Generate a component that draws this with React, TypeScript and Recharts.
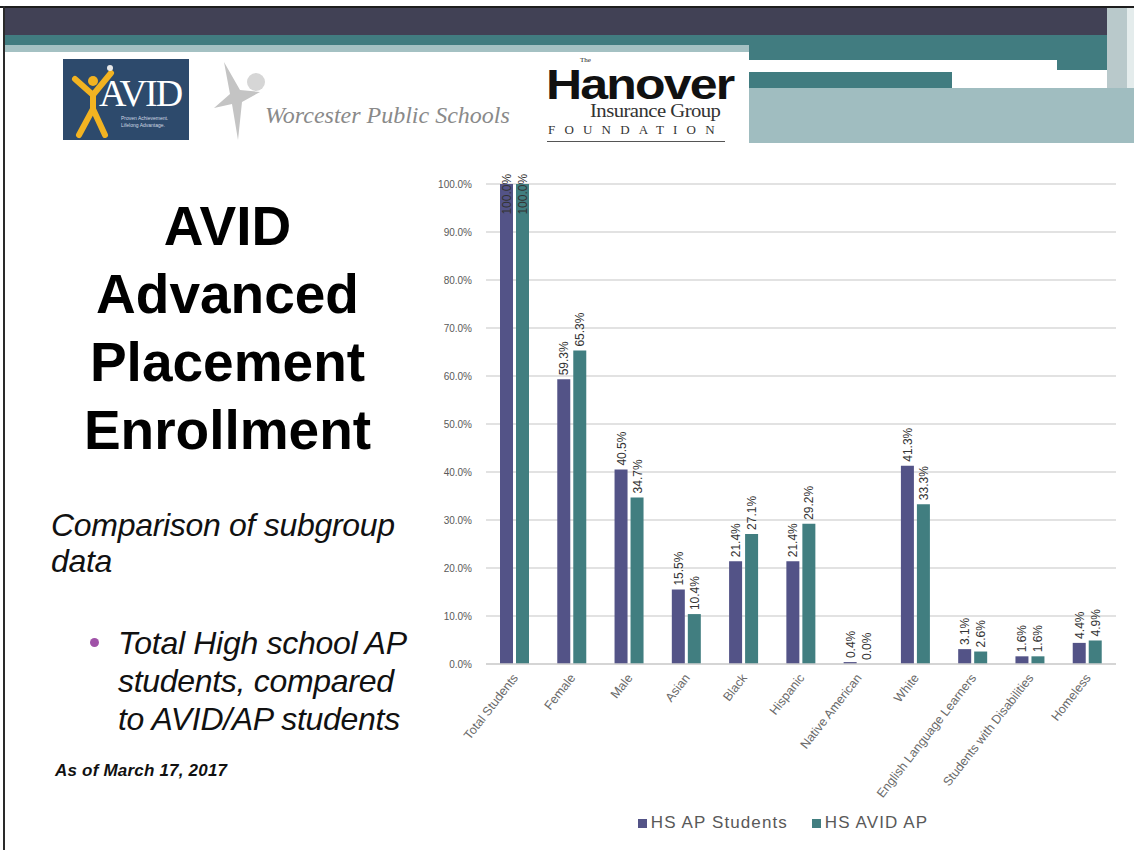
import React from 'react'
import {
  Bar,
  BarChart,
  CartesianGrid,
  LabelList,
  Legend,
  XAxis,
  YAxis,
} from 'recharts'

// chart data
const categories = [
  'Total Students',
  'Female',
  'Male',
  'Asian',
  'Black',
  'Hispanic',
  'Native American',
  'White',
  'English Language Learners',
  'Students with Disabilities',
  'Homeless',
]
const hsApStudents = [100.0, 59.3, 40.5, 15.5, 21.4, 21.4, 0.4, 41.3, 3.1, 1.6, 4.4]
const hsAvidAp = [100.0, 65.3, 34.7, 10.4, 27.1, 29.2, 0.0, 33.3, 2.6, 1.6, 4.9]
const yTicks = [0, 10, 20, 30, 40, 50, 60, 70, 80, 90, 100]

const data = categories.map((name, i) => ({
  name,
  ap: hsApStudents[i],
  avid: hsAvidAp[i],
}))

const PURPLE = '#535387'
const TEAL = '#417e80'
const AXIS_TEXT = '#595959'
const FONT = '"Liberation Sans", Arial, sans-serif'
const SERIF = '"Liberation Serif", serif'

const CHART_TOP = 24 // plot top inside the chart svg

// rotated value labels sitting on top of each bar, pushed inside when they
// would run off the top of the plot (like the 100% bars)
function BarValue(props: any) {
  const { x, y, width, value } = props
  const text = `${Number(value).toFixed(1)}%`
  const len = text.length * 6.6
  let base = y - 4
  const minTop = CHART_TOP - 9
  if (base - len < minTop) base = minTop + len
  return (
    <text
      transform={`translate(${x + width / 2 + 4.5},${base}) rotate(-90)`}
      fontSize={12}
      fontFamily={FONT}
      fill="#333"
      textAnchor="start"
    >
      {text}
    </text>
  )
}

function CategoryTick(props: any) {
  const { x, y, payload } = props
  return (
    <text
      transform={`translate(${x + 4},${y + 6}) rotate(-52)`}
      fontSize={12.5}
      fontFamily={FONT}
      fill="#6a6a6a"
      textAnchor="end"
    >
      {payload.value}
    </text>
  )
}

// zero-valued bars still get a (invisible) rect so their label is drawn
const zeroSize = (v: number) => (v === 0 ? 0.01 : 0)

function Header() {
  const box = (l: number, t: number, w: number, h: number, bg: string) => (
    <div style={{ position: 'absolute', left: l, top: t, width: w, height: h, background: bg }} />
  )
  return (
    <>
      {box(0, 6, 1134, 2, '#1e1e1e')}
      {box(5, 8, 1102, 27, '#414155')}
      {box(5, 35, 1102, 10, '#417c80')}
      {box(5, 45, 744, 7, '#a4c1c3')}
      {box(749, 45, 358, 15, '#417c80')}
      {box(1057, 60, 50, 10, '#417c80')}
      {box(749, 72, 203, 16, '#417c80')}
      {box(749, 88, 385, 55, '#a0bdc0')}
      {box(1107, 8, 20, 80, '#b9c9cb')}
      {box(1127, 8, 7, 80, '#e4ecec')}
      {box(3, 6, 2, 844, '#2a2a2a')}
    </>
  )
}

function Logos() {
  return (
    <>
      {/* AVID */}
      <div
        style={{
          position: 'absolute',
          left: 63,
          top: 59,
          width: 126,
          height: 81,
          background: '#2d4a6c',
        }}
      >
        <svg width={126} height={81} style={{ position: 'absolute', left: 0, top: 0 }}>
          <circle cx={30} cy={22} r={5} fill="#f2b321" />
          <path d="M12 20 L30 36 L48 14 M30 36 L30 50 L16 76 M30 50 L42 76" stroke="#f2b321" strokeWidth={6} fill="none" strokeLinecap="round" />
          <circle cx={47} cy={9} r={3} fill="#e8e8e8" />
        </svg>
        <div
          style={{
            position: 'absolute',
            left: 36,
            top: 14,
            color: '#fff',
            fontFamily: SERIF,
            fontSize: 38,
            lineHeight: '40px',
            letterSpacing: -2,
          }}
        >
          AVID
        </div>
        <div style={{ position: 'absolute', left: 58, top: 56, color: '#cfd8e3', fontSize: 5, fontFamily: FONT, lineHeight: '7px' }}>
          Proven Achievement.
          <br />
          Lifelong Advantage.
        </div>
      </div>
      {/* Worcester Public Schools */}
      <svg width={60} height={80} style={{ position: 'absolute', left: 214, top: 62 }}>
        <polygon points="10,0 26,28 46,30 28,40 24,78 18,42 0,46 16,32" fill="#c4c4c4" />
        <circle cx={42} cy={20} r={9} fill="#d6d6d6" />
      </svg>
      <div
        style={{
          position: 'absolute',
          left: 265,
          top: 101,
          fontFamily: SERIF,
          fontStyle: 'italic',
          fontSize: 24,
          lineHeight: '28px',
          color: '#8a8a8a',
        }}
      >
        Worcester Public Schools
      </div>
      {/* Hanover */}
      <div style={{ position: 'absolute', left: 580, top: 56, fontSize: 7, lineHeight: '8px', fontFamily: SERIF, color: '#222' }}>
        The
      </div>
      <div
        style={{
          position: 'absolute',
          left: 546,
          top: 69,
          fontFamily: FONT,
          fontWeight: 'bold',
          fontSize: 42,
          letterSpacing: -1.5,
          color: '#111',
          lineHeight: '32px',
          transform: 'scaleX(1.19)',
          transformOrigin: 'left top',
        }}
      >
        Hanover
      </div>
      <div
        style={{
          position: 'absolute',
          left: 590,
          top: 102,
          fontFamily: SERIF,
          fontSize: 19,
          lineHeight: '18px',
          color: '#333',
          letterSpacing: -0.5,
          transform: 'scaleX(1.09)',
          transformOrigin: 'left top',
        }}
      >
        Insurance Group
      </div>
      <div
        style={{
          position: 'absolute',
          left: 548,
          top: 123,
          fontFamily: SERIF,
          fontSize: 13,
          lineHeight: '14px',
          color: '#333',
          letterSpacing: 9.2,
        }}
      >
        FOUNDATION
      </div>
      <div style={{ position: 'absolute', left: 547, top: 141, width: 178, height: 1, background: '#555' }} />
    </>
  )
}

function SlideText() {
  const titleLine: React.CSSProperties = {
    fontFamily: FONT,
    fontWeight: 'bold',
    fontSize: 55,
    color: '#000',
    lineHeight: '68px',
    textAlign: 'center',
  }
  const italic: React.CSSProperties = {
    fontFamily: FONT,
    fontStyle: 'italic',
    fontSize: 32,
    color: '#111',
    letterSpacing: -0.3,
    lineHeight: '36px',
  }
  return (
    <>
      <div style={{ position: 'absolute', left: 20, top: 192, width: 415 }}>
        <div style={titleLine}>AVID</div>
        <div style={titleLine}>Advanced</div>
        <div style={titleLine}>Placement</div>
        <div style={titleLine}>Enrollment</div>
      </div>
      <div style={{ ...italic, position: 'absolute', left: 51, top: 507 }}>
        Comparison of subgroup
        <br />
        data
      </div>
      <div
        style={{
          position: 'absolute',
          left: 90,
          top: 638,
          width: 9,
          height: 9,
          borderRadius: 5,
          background: '#a052a8',
        }}
      />
      <div style={{ ...italic, position: 'absolute', left: 118, top: 624, lineHeight: '38px' }}>
        Total High school AP
        <br />
        students, compared
        <br />
        to AVID/AP students
      </div>
      <div
        style={{
          position: 'absolute',
          left: 55,
          top: 761,
          fontFamily: FONT,
          fontStyle: 'italic',
          fontWeight: 'bold',
          fontSize: 17,
          letterSpacing: 0.2,
          color: '#111',
        }}
      >
        As of March 17, 2017
      </div>
    </>
  )
}

export default function App() {
  return (
    <div
      style={{
        position: 'absolute',
        left: 0,
        top: 0,
        width: 1134,
        height: 850,
        background: '#fff',
        overflow: 'hidden',
      }}
    >
      <Header />
      <Logos />
      <SlideText />
      <div style={{ position: 'absolute', left: 420, top: 160 }}>
        <BarChart
          width={714}
          height={690}
          data={data}
          margin={{ top: CHART_TOP, right: 18, left: 0, bottom: 7 }}
          barSize={13}
          barGap={3}
        >
          <CartesianGrid vertical={false} stroke="#d9d9d9" strokeWidth={1.5} />
          <XAxis
            dataKey="name"
            interval={0}
            height={149}
            tick={<CategoryTick />}
            tickLine={false}
            axisLine={{ stroke: '#d0d0d0', strokeWidth: 1.5 }}
          />
          <YAxis
            domain={[0, 100]}
            ticks={yTicks}
            width={66}
            axisLine={false}
            tickLine={false}
            tickMargin={8}
            tickFormatter={(v: number) => `${v.toFixed(1)}%`}
            tick={{ fontSize: 10, fill: AXIS_TEXT, fontFamily: FONT }}
          />
          <Legend
            verticalAlign="bottom"
            height={30}
            iconType="square"
            iconSize={9}
            wrapperStyle={{ fontFamily: FONT, fontSize: 17, color: AXIS_TEXT, left: 200, width: 350 }}
            formatter={(v: string) => (
              <span style={{ color: AXIS_TEXT, letterSpacing: 1.1, marginRight: 14 }}>{v}</span>
            )}
          />
          <Bar dataKey="ap" name="HS AP Students" fill={PURPLE} minPointSize={zeroSize} isAnimationActive={false}>
            <LabelList dataKey="ap" content={<BarValue />} />
          </Bar>
          <Bar dataKey="avid" name="HS AVID AP" fill={TEAL} minPointSize={zeroSize} isAnimationActive={false}>
            <LabelList dataKey="avid" content={<BarValue />} />
          </Bar>
        </BarChart>
      </div>
    </div>
  )
}
